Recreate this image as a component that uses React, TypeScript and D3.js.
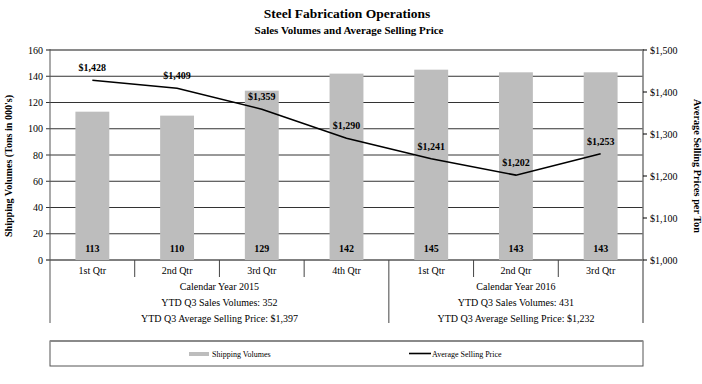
import React from 'react';
import * as d3 from 'd3';

const quarters = ['1st Qtr', '2nd Qtr', '3rd Qtr', '4th Qtr', '1st Qtr', '2nd Qtr', '3rd Qtr'];
const volumes = [113, 110, 129, 142, 145, 143, 143];
const prices = [1428, 1409, 1359, 1290, 1241, 1202, 1253];
const yearGroups = [
  { start: 0, end: 4, lines: ['Calendar Year 2015', 'YTD Q3 Sales Volumes: 352', 'YTD Q3 Average Selling Price: $1,397'] },
  { start: 4, end: 7, lines: ['Calendar Year 2016', 'YTD Q3 Sales Volumes: 431', 'YTD Q3 Average Selling Price: $1,232'] },
];
const volumeTicks = [0, 20, 40, 60, 80, 100, 120, 140, 160];
const priceTicks = [1000, 1100, 1200, 1300, 1400, 1500];

const W = 702;
const H = 384;
const plot = { left: 50, right: 643, top: 50, bottom: 260 };
const FONT = '"Liberation Serif", "Times New Roman", serif';

const money = (v: number) => '$' + d3.format(',')(v);

export default function App() {
  const idx = quarters.map((_, i) => i);
  const x = d3.scaleBand<number>().domain(idx).range([plot.left, plot.right]).paddingInner(0.6).paddingOuter(0.3);
  const band = d3.scaleBand<number>().domain(idx).range([plot.left, plot.right]);
  const yV = d3.scaleLinear().domain([0, 160]).range([plot.bottom, plot.top]);
  const yP = d3.scaleLinear().domain([1000, 1500]).range([plot.bottom, plot.top]);
  const cx = (i: number) => (band(i) as number) + band.bandwidth() / 2;
  const line = d3.line<number>().x((_, i) => cx(i)).y(d => yP(d));
  const catBottom = 323;

  return (
    <svg width={W} height={H} style={{ position: 'absolute', left: 0, top: 0, background: '#fff' }} fontFamily={FONT}>
      <text x={347} y={18} textAnchor="middle" fontSize={13.5} fontWeight="bold">Steel Fabrication Operations</text>
      <text x={349} y={34} textAnchor="middle" fontSize={11} fontWeight="bold">Sales Volumes and Average Selling Price</text>

      {/* gridlines */}
      {volumeTicks.map(t => (
        <line key={'g' + t} x1={plot.left - 4} x2={plot.right} y1={yV(t)} y2={yV(t)}
          stroke={t === 160 ? '#8a8a8a' : t === 0 ? '#000' : '#333'} strokeWidth={t === 160 ? 2 : 1} />
      ))}
      {volumeTicks.map(t => (
        <text key={'lv' + t} x={plot.left - 7} y={yV(t) + 3.5} textAnchor="end" fontSize={10}>{t}</text>
      ))}

      {/* bars */}
      {volumes.map((v, i) => (
        <rect key={'b' + i} x={x(i)} y={yV(v)} width={x.bandwidth()} height={yV(0) - yV(v)} fill="#bdbdbd" />
      ))}
      {volumes.map((v, i) => (
        <text key={'bl' + i} x={cx(i)} y={plot.bottom - 8} textAnchor="middle" fontSize={10} fontWeight="bold">{v}</text>
      ))}

      {/* left axis line */}
      <line x1={plot.left} x2={plot.left} y1={plot.top - 1} y2={catBottom} stroke="#555" strokeWidth={1} />
      {/* right axis */}
      <line x1={plot.right} x2={plot.right} y1={plot.top - 1} y2={catBottom} stroke="#777" strokeWidth={1.5} />
      {priceTicks.map(t => (
        <g key={'p' + t}>
          <line x1={plot.right} x2={plot.right + 4} y1={yP(t)} y2={yP(t)} stroke="#000" />
          <text x={plot.right + 7} y={yP(t) + 3.5} fontSize={10}>{money(t)}</text>
        </g>
      ))}

      {/* price line */}
      <path d={line(prices) || ''} fill="none" stroke="#000" strokeWidth={1.6} />
      {prices.map((p, i) => (
        <text key={'pl' + i} x={cx(i)} y={yP(p) - 9} textAnchor="middle" fontSize={10} fontWeight="bold">{money(p)}</text>
      ))}

      {/* category axis */}
      {idx.slice(1).map(i => (
        <line key={'ct' + i} x1={band(i)} x2={band(i)} y1={plot.bottom} y2={i === 4 ? catBottom : 277} stroke="#444" />
      ))}
      {quarters.map((q, i) => (
        <text key={'q' + i} x={cx(i)} y={274} textAnchor="middle" fontSize={10}>{q}</text>
      ))}
      {yearGroups.map((g, gi) => {
        const gx = ((band(g.start) as number) + (g.end < quarters.length ? (band(g.end) as number) : plot.right)) / 2;
        return g.lines.map((l, li) => (
          <text key={'y' + gi + li} x={gx} y={290 + li * 16} textAnchor="middle" fontSize={10}>{l}</text>
        ));
      })}

      {/* legend */}
      <rect x={plot.left} y={341} width={plot.right - plot.left} height={25} fill="#fff" stroke="#555" strokeWidth={1} />
      <line x1={plot.left} x2={plot.right} y1={341} y2={341} stroke="#8a8a8a" strokeWidth={2} />
      <rect x={189} y={352} width={20} height={4} fill="#bdbdbd" />
      <text x={212} y={357} fontSize={8}>Shipping Volumes</text>
      <line x1={409} x2={431} y1={353.5} y2={353.5} stroke="#000" strokeWidth={1.6} />
      <text x={432} y={357} fontSize={8}>Average Selling Price</text>

      {/* axis titles */}
      <text transform="translate(12,166) rotate(-90)" textAnchor="middle" fontSize={10} fontWeight="bold"
        textLength={142} lengthAdjust="spacingAndGlyphs">Shipping Volumes (Tons in 000's)</text>
      <text transform="translate(694,166) rotate(90)" textAnchor="middle" fontSize={10} fontWeight="bold"
        textLength={134} lengthAdjust="spacingAndGlyphs">Average Selling Prices per Ton</text>
    </svg>
  );
}
